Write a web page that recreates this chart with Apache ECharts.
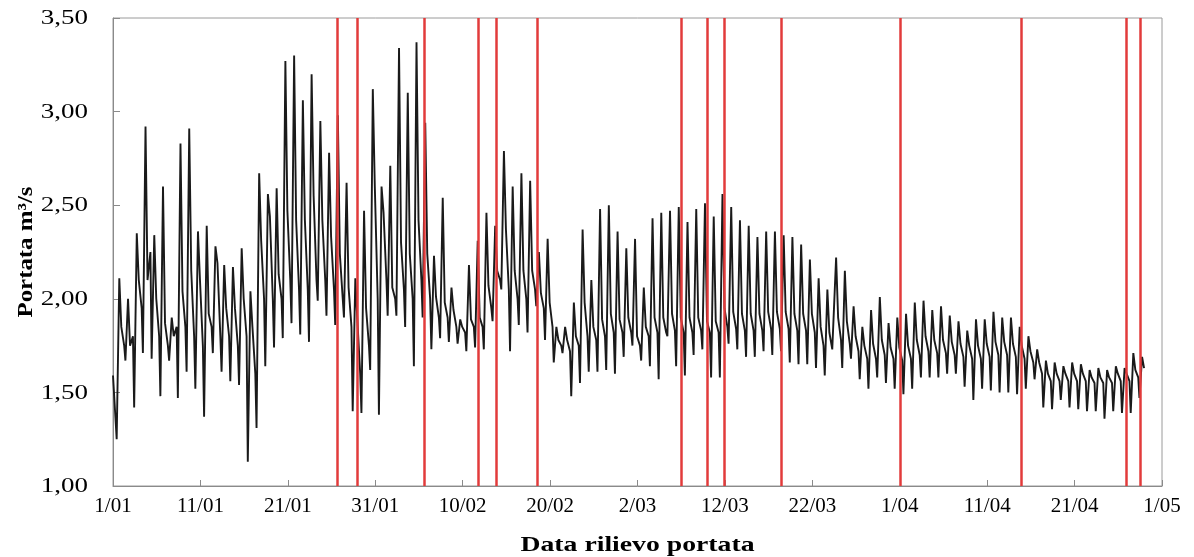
<!DOCTYPE html>
<html>
<head>
<meta charset="utf-8">
<script src="https://cdn.jsdelivr.net/npm/echarts@6/dist/echarts.min.js"></script>
<style>
html,body{margin:0;padding:0;background:#fff;}
#c{width:1194px;height:557px;}
</style>
</head>
<body>
<div id="c"></div>
<script>
// x-axis tick labels (every 10 days from 1 January)
const xTickLabels = ['1/01','11/01','21/01','31/01','10/02','20/02','2/03','12/03','22/03','1/04','11/04','21/04','1/05'];
// y-axis ticks and their labels
const yTicks = [1.0, 1.5, 2.0, 2.5, 3.0, 3.5];
const yTickLabels = ['1,00','1,50','2,00','2,50','3,00','3,50'];
// first recorded value (day 0)
const startValue = 1.59;
// daily minimum (night dip), daily maximum (spike), level just after the peak and level just before the next dip, days 0..117
const dailyLow = [1.25,1.67,1.42,1.71,1.68,1.48,1.67,1.47,1.61,1.52, 1.37,1.71,1.61,1.56,1.54,1.13,1.31,1.64,1.74,1.79,
  1.87,1.81,1.77,1.99,1.91,1.86,1.90,1.40,1.39,1.62, 1.38,1.91,1.91,1.85,1.64,1.90,1.73,1.79,1.77,1.76,
  1.72,1.74,1.73,1.88,2.05,1.72,1.86,1.82,1.96,1.78, 1.66,1.71,1.48,1.55,1.61,1.61,1.62,1.60,1.69,1.75,
  1.67,1.64,1.57,1.80,1.64,1.59,1.70,1.73,1.58,1.58, 1.76,1.73,1.69,1.69,1.72,1.70,1.72,1.66,1.65,1.65,
  1.63,1.59,1.73,1.63,1.68,1.57,1.52,1.58,1.55,1.52, 1.49,1.52,1.58,1.58,1.58,1.60,1.60,1.53,1.46,1.52,
  1.51,1.50,1.50,1.49,1.52,1.57,1.42,1.41,1.46,1.42, 1.41,1.40,1.40,1.36,1.40,1.39,1.39,1.47];
const dailyHigh = [2.11,2.00,2.35,2.92,2.34,2.60,1.90,2.83,2.91,2.36, 2.39,2.28,2.18,2.17,2.27,2.04,2.67,2.56,2.59,3.27,
  3.30,3.06,3.20,2.95,2.78,2.98,2.62,2.11,2.47,3.12, 2.60,2.71,3.34,3.10,3.37,2.94,2.23,2.54,2.06,1.89,
  2.18,2.31,2.46,2.39,2.79,2.60,2.67,2.63,2.25,2.32, 1.85,1.85,1.98,2.37,2.10,2.48,2.50,2.36,2.27,2.32,
  2.06,2.43,2.46,2.47,2.49,2.41,2.48,2.51,2.44,2.56, 2.49,2.42,2.39,2.33,2.36,2.36,2.34,2.33,2.29,2.21,
  2.11,2.05,2.22,2.15,1.96,1.85,1.94,2.01,1.87,1.90, 1.92,1.98,1.99,1.94,1.96,1.91,1.88,1.83,1.89,1.89,
  1.93,1.90,1.90,1.85,1.80,1.73,1.67,1.66,1.64,1.66, 1.65,1.62,1.63,1.62,1.64,1.63,1.71,1.69];
const dailyAfterPeak = [1.85,1.75,2.10,2.10,2.00,1.87,1.80,2.04,2.15,2.10, 1.92,2.19,1.95,1.95,2.00,1.85,2.31,2.44,2.13,2.47,
  2.42,2.42,2.55,2.42,2.33,2.24,2.06,1.89,1.95,2.60, 2.46,2.06,2.30,2.24,2.42,2.24,2.01,1.98,1.94,1.85,
  1.89,1.90,2.07,2.15,2.37,2.15,2.15,2.15,2.03,1.98, 1.78,1.78,1.80,1.98,1.85,1.89,1.92,1.89,1.90,1.80,
  1.85,1.90,1.90,1.92,1.90,1.90,1.90,1.88,1.88,1.95, 1.93,1.92,1.92,1.92,1.93,1.93,1.93,1.92,1.92,1.92,
  1.85,1.82,1.90,1.88,1.80,1.75,1.76,1.78,1.74,1.74, 1.75,1.78,1.80,1.78,1.78,1.77,1.76,1.75,1.75,1.76,
  1.77,1.77,1.76,1.75,1.72,1.66,1.60,1.60,1.60,1.60, 1.60,1.58,1.58,1.58,1.60,1.60,1.62,1.63];
const dailyBeforeDip = [1.75,1.80,1.95,2.25,1.80,1.75,1.85,1.85,1.80,1.75, 1.85,1.80,1.80,1.75,1.80,1.60,2.00,2.00,2.00,2.10,
  2.05,2.05,2.10,2.10,2.05,2.00,1.85,1.60,1.75,2.00, 2.10,2.00,2.05,2.00,2.10,2.00,1.90,1.90,1.85,1.82,
  1.85,1.85,1.95,2.10,2.05,2.00,2.00,2.05,1.95,1.85, 1.75,1.72,1.75,1.80,1.78,1.80,1.82,1.82,1.82,1.75,
  1.80,1.82,1.82,1.83,1.82,1.82,1.83,1.82,1.82,1.85, 1.84,1.83,1.83,1.83,1.84,1.84,1.84,1.83,1.83,1.82,
  1.75,1.73,1.78,1.76,1.72,1.68,1.68,1.70,1.68,1.67, 1.68,1.70,1.72,1.71,1.71,1.70,1.69,1.68,1.68,1.69,
  1.70,1.70,1.69,1.68,1.66,1.60,1.56,1.56,1.56,1.56, 1.56,1.55,1.55,1.55,1.56,1.56,1.58,1.62];
// dates of the red vertical markers (days since 1/01)
const markerDays = [25.7,27.95,35.6,41.75,43.8,48.5,64.95,68.0,69.9,76.4,90.1,103.9,115.9,117.55];

const seriesData = [[0, startValue]];
for (let d = 0; d < dailyLow.length; d++) {
  seriesData.push([d + 0.42, dailyLow[d]]);
  seriesData.push([d + 0.72, dailyHigh[d]]);
  seriesData.push([d + 0.95, dailyAfterPeak[d]]);
  if (d < dailyLow.length - 1) seriesData.push([d + 1.28, dailyBeforeDip[d]]);
}

const serif = '"Liberation Serif","Times New Roman",serif';
const chart = echarts.init(document.getElementById('c'), null, {renderer: 'canvas'});
chart.setOption({
  animation: false,
  backgroundColor: '#fff',
  grid: {left: 113, right: 32, top: 18, bottom: 71, show: true, borderColor: '#9a9a9a', borderWidth: 1},
  xAxis: {
    type: 'value', min: 0, max: 120, interval: 10,
    axisLine: {show: true, lineStyle: {color: '#8a8a8a', width: 1}},
    axisTick: {show: true, inside: true, length: 6, lineStyle: {color: '#8a8a8a'}},
    splitLine: {show: false},
    axisLabel: {
      fontFamily: serif, fontSize: 21, color: '#000', margin: 10,
      formatter: function (v) { return xTickLabels[Math.round(v / 10)] || ''; }
    }
  },
  yAxis: {
    type: 'value', min: 1, max: 3.5, interval: 0.5,
    axisLine: {show: true, lineStyle: {color: '#8a8a8a', width: 1}},
    axisTick: {show: true, inside: true, length: 7, lineStyle: {color: '#8a8a8a'}},
    splitLine: {show: false},
    axisLabel: {show: false}
  },
  series: [{
    type: 'line',
    data: seriesData,
    showSymbol: false,
    lineStyle: {color: '#1a1a1a', width: 1.9},
    z: 2,
    markLine: {
      silent: true,
      symbol: 'none',
      label: {show: false},
      lineStyle: {color: '#e23b3b', width: 2.5, type: 'solid'},
      data: markerDays.map(function (d) { return {xAxis: d}; })
    }
  }]
});

// texts drawn horizontally widened, as in the reference
const graphics = [];
yTicks.forEach(function (v, i) {
  const p = chart.convertToPixel({gridIndex: 0}, [0, v]);
  graphics.push({
    type: 'text', x: p[0] - 25, y: p[1] + 1, scaleX: 1.35,
    style: {text: yTickLabels[i], font: '20px ' + serif, fill: '#000', align: 'right', verticalAlign: 'middle'}
  });
});
const xMid = chart.convertToPixel({gridIndex: 0}, [60, 1]);
graphics.push({
  type: 'text', x: xMid[0], y: 545, scaleX: 1.26,
  style: {text: 'Data rilievo portata', font: 'bold 22px ' + serif, fill: '#000', align: 'center', verticalAlign: 'middle'}
});
const yMid = chart.convertToPixel({gridIndex: 0}, [0, 2.25]);
graphics.push({
  type: 'text', x: 26, y: yMid[1], rotation: Math.PI / 2, scaleX: 1.13,
  style: {text: 'Portata m³/s', font: 'bold 22px ' + serif, fill: '#000', align: 'center', verticalAlign: 'middle'}
});
chart.setOption({graphic: graphics});
</script>
</body>
</html>
